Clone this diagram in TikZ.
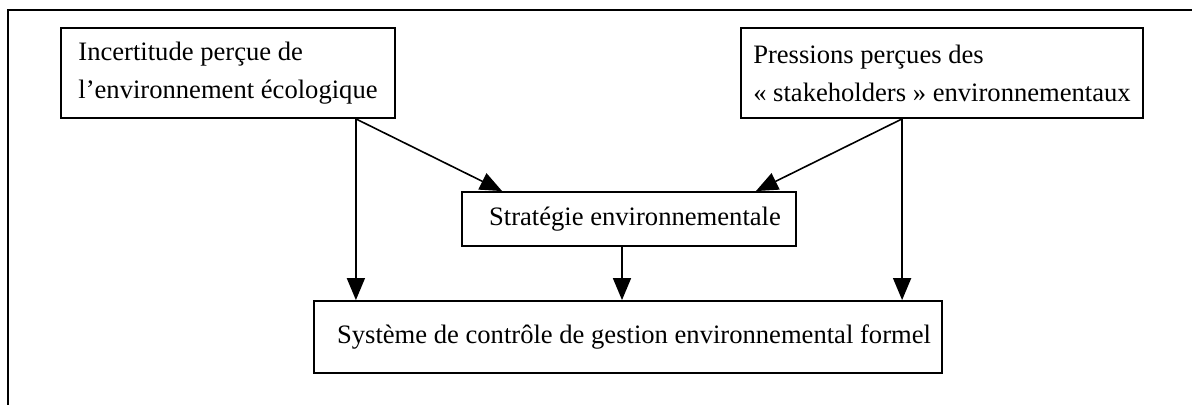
\documentclass[tikz,border=0pt]{standalone}
\usepackage{fontspec}
\setmainfont{Liberation Serif}
\usetikzlibrary{arrows.meta, positioning}

\begin{document}
\begin{tikzpicture}[x=0.5pt, y=-0.5pt, >={Triangle[length=11pt, width=9pt]}, line width=0.8pt,
    box/.style={draw, line width=0.9pt, inner sep=0pt, align=left, font=\fontsize{13.3}{19}\selectfont}]
    \useasboundingbox (0,0) rectangle (1192,405);
    \draw (8,405) -- (8,10) -- (1192,10);

    \node[box, minimum width=167pt, minimum height=45pt] (incert) at (228,73)
        {Incertitude perçue de\\l’environnement écologique};
    \node[box, minimum width=201pt, minimum height=45pt] (press) at (942,73)
        {Pressions perçues des\\« stakeholders » environnementaux};
    \node[box, minimum width=167pt, minimum height=27pt] (strat) at (629,219)
        {\hspace*{6pt}Stratégie environnementale};
    \node[box, minimum width=314pt, minimum height=36pt] (syst) at (628,337)
        {\hspace*{6pt}Système de contrôle de gestion environnemental formel};

    \coordinate (a) at ([xshift=-20pt]incert.south east);
    \coordinate (b) at ([xshift=81pt]press.south west);
    \draw[->] (a) -- (a |- syst.north);
    \draw[->] (a) -- ([xshift=20.5pt]strat.north west);
    \draw[->] (b) -- ([xshift=-20.5pt]strat.north east);
    \draw[->] (b) -- (b |- syst.north);
    \draw[->] ([xshift=-3.5pt]strat.south) -- ([xshift=-3.5pt]strat.south |- syst.north);
\end{tikzpicture}
\end{document}
